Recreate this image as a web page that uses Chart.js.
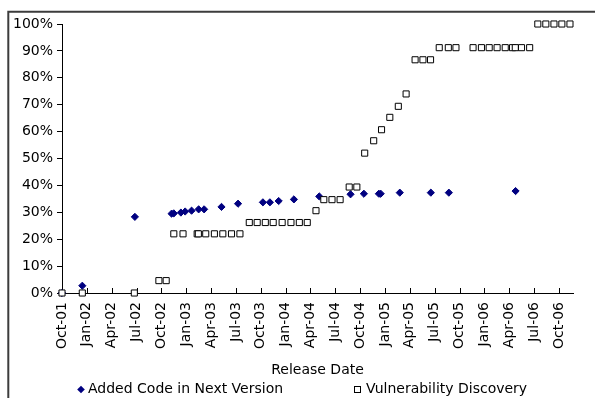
<!DOCTYPE html>
<html>
<head>
<meta charset="utf-8">
<script src="https://cdn.jsdelivr.net/npm/chart.js@4.4.1/dist/chart.umd.min.js"></script>
<style>
  html, body { margin: 0; padding: 0; background: #fff; overflow: hidden; }
  #wrap { position: relative; width: 595px; height: 398px; }
</style>
</head>
<body>
<div id="wrap"><canvas id="c" width="595" height="398"></canvas></div>
<script>
// Quarterly axis labels, one every three months starting Oct 2001
const tickLabels = ['Oct-01','Jan-02','Apr-02','Jul-02','Oct-02','Jan-03','Apr-03','Jul-03',
  'Oct-03','Jan-04','Apr-04','Jul-04','Oct-04','Jan-05','Apr-05','Jul-05','Oct-05',
  'Jan-06','Apr-06','Jul-06','Oct-06'];

// Added code in next version (% of total), by release date
const addedDates = ['2001-10-01','2001-12-15','2002-06-25','2002-11-08','2002-11-16','2002-12-12',
  '2002-12-28','2003-01-21','2003-02-15','2003-03-06','2003-05-09','2003-07-09','2003-10-09',
  '2003-11-04','2003-12-06','2004-02-01','2004-05-03','2004-08-27','2004-10-15','2004-12-09',
  '2004-12-16','2005-02-23','2005-06-17','2005-08-23','2006-04-24'];
const addedValues = [0, 2.7, 28.3, 29.5, 29.6, 29.9, 30.3, 30.6, 31.1, 31.1, 32.0, 33.2, 33.7,
  33.7, 34.2, 34.8, 35.9, 36.7, 36.9, 36.9, 36.9, 37.3, 37.3, 37.3, 37.9];

// Cumulative vulnerability discovery (%), by release date
const vulnDates = ['2001-10-01','2001-12-15','2002-06-23','2002-09-22','2002-10-19','2002-11-16',
  '2002-12-20','2003-02-10','2003-02-14','2003-03-12','2003-04-13','2003-05-14','2003-06-15',
  '2003-07-16','2003-08-20','2003-09-18','2003-10-18','2003-11-16','2003-12-19','2004-01-21',
  '2004-02-20','2004-03-20','2004-04-21','2004-05-20','2004-06-19','2004-07-19','2004-08-22',
  '2004-09-19','2004-10-18','2004-11-20','2004-12-19','2005-01-19','2005-02-18','2005-03-18',
  '2005-04-20','2005-05-19','2005-06-16','2005-07-18','2005-08-21','2005-09-18','2005-11-20',
  '2005-12-21','2006-01-19','2006-02-16','2006-03-17','2006-04-13','2006-04-23','2006-05-16',
  '2006-06-15','2006-07-15','2006-08-14','2006-09-13','2006-10-12','2006-11-11'];
const vulnValues = [0, 0, 0, 4.6, 4.6, 22.0, 22.0, 22.0, 22.0, 22.0, 22.0, 22.0, 22.0, 22.0,
  26.2, 26.2, 26.2, 26.2, 26.2, 26.2, 26.2, 26.2, 30.6, 34.7, 34.7, 34.7, 39.4, 39.4, 52.0,
  56.6, 60.7, 65.3, 69.4, 74.0, 86.7, 86.7, 86.7, 91.2, 91.2, 91.2, 91.2, 91.2, 91.2, 91.2,
  91.2, 91.2, 91.2, 91.2, 91.2, 100, 100, 100, 100, 100];

// Months elapsed since 1 Oct 2001 (fractional)
function monthIndex(iso) {
  const [y, m, d] = iso.split('-').map(Number);
  const daysInMonth = new Date(y, m, 0).getDate();
  return (y - 2001) * 12 + (m - 10) + (d - 1) / daysInMonth;
}
const toPoints = (dates, values) => dates.map((d, i) => ({ x: monthIndex(d), y: values[i] }));

const FONT = 'DejaVu Sans';
const NAVY = '#000080';

// Outer frame lines (top and left)
const framePlugin = {
  id: 'frame',
  beforeDraw(chart) {
    const ctx = chart.ctx;
    ctx.save();
    ctx.strokeStyle = '#3c3c3c';
    ctx.lineWidth = 2;
    ctx.beginPath();
    ctx.moveTo(8.3, chart.height);
    ctx.lineTo(8.3, 11.7);
    ctx.lineTo(chart.width, 11.7);
    ctx.stroke();
    ctx.restore();
  }
};

// Tick marks on the date axis point up into the plot
const innerTicksPlugin = {
  id: 'innerTicks',
  beforeDatasetsDraw(chart) {
    const xs = chart.scales.x;
    const ctx = chart.ctx;
    ctx.save();
    ctx.strokeStyle = '#000';
    ctx.lineWidth = 1;
    ctx.beginPath();
    xs.ticks.forEach((t, i) => {
      const px = Math.round(xs.getPixelForTick(i)) + 0.5;
      ctx.moveTo(px, xs.top);
      ctx.lineTo(px, xs.top - 5);
    });
    ctx.stroke();
    ctx.restore();
  }
};

// Series key below the axis title
const keyPlugin = {
  id: 'seriesKey',
  afterDraw(chart) {
    const ctx = chart.ctx;
    const y = 389.5;
    ctx.save();
    ctx.font = '14px "' + FONT + '"';
    ctx.textBaseline = 'middle';
    ctx.textAlign = 'left';
    // diamond
    ctx.fillStyle = NAVY;
    ctx.beginPath();
    ctx.moveTo(81 - 3.8, y); ctx.lineTo(81, y - 3.8); ctx.lineTo(81 + 3.8, y); ctx.lineTo(81, y + 3.8);
    ctx.closePath(); ctx.fill();
    ctx.fillStyle = '#000';
    ctx.fillText(chart.data.datasets[1].label, 88, y);
    // square
    ctx.fillStyle = '#fff';
    ctx.strokeStyle = '#000';
    ctx.lineWidth = 1;
    ctx.fillRect(354.5, y - 3, 6, 6);
    ctx.strokeRect(354.5, y - 3, 6, 6);
    ctx.fillStyle = '#000';
    ctx.fillText(chart.data.datasets[0].label, 366, y);
    ctx.restore();
  }
};

new Chart(document.getElementById('c'), {
  type: 'scatter',
  data: {
    datasets: [
      {
        label: 'Vulnerability Discovery',
        data: toPoints(vulnDates, vulnValues),
        pointStyle: 'rect',
        pointRadius: 4.3,
        pointBackgroundColor: '#fff',
        pointBorderColor: '#000',
        pointBorderWidth: 1,
        showLine: false,
        clip: false,
        order: 0
      },
      {
        label: 'Added Code in Next Version',
        data: toPoints(addedDates, addedValues),
        pointStyle: 'rectRot',
        pointRadius: 3.6,
        pointBackgroundColor: NAVY,
        pointBorderColor: NAVY,
        pointBorderWidth: 1,
        showLine: false,
        clip: false,
        order: 1
      }
    ]
  },
  options: {
    responsive: false,
    animation: false,
    devicePixelRatio: 1,
    events: [],
    layout: { padding: { left: 0, top: 24, right: 22, bottom: 15.6 } },
    plugins: { legend: { display: false }, tooltip: { enabled: false } },
    scales: {
      x: {
        type: 'linear',
        min: 0,
        max: 61.7,
        afterBuildTicks(scale) {
          scale.ticks = tickLabels.map((_, i) => ({ value: i * 3 }));
        },
        afterFit(scale) { scale.height = 89.4; },
        grid: { display: false, drawTicks: false },
        border: { display: true, color: '#000', width: 1 },
        ticks: {
          autoSkip: false,
          minRotation: 90,
          maxRotation: 90,
          padding: 9,
          color: '#000',
          font: { family: FONT, size: 14 },
          callback: (v, i) => tickLabels[i]
        },
        title: {
          display: true,
          text: 'Release Date',
          color: '#000',
          font: { family: FONT, size: 14 },
          padding: { top: 4, bottom: 4 }
        }
      },
      y: {
        min: 0,
        max: 100,
        afterFit(scale) { scale.width = 62; },
        grid: { display: true, drawOnChartArea: false, drawTicks: true, tickLength: 5, color: '#000' },
        border: { display: true, color: '#000', width: 1 },
        ticks: {
          stepSize: 10,
          padding: 4,
          color: '#000',
          font: { family: FONT, size: 14 },
          callback: v => v + '%'
        }
      }
    }
  },
  plugins: [framePlugin, innerTicksPlugin, keyPlugin]
});
</script>
</body>
</html>
